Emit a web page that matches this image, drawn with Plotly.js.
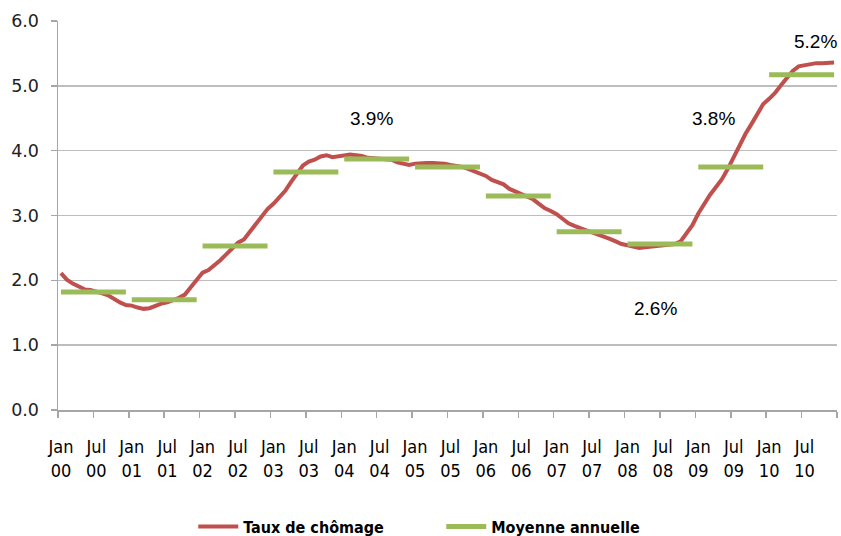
<!DOCTYPE html>
<html>
<head>
<meta charset="utf-8">
<script src="https://cdn.plot.ly/plotly-3.0.1.min.js"></script>
<style>
  html, body { margin: 0; padding: 0; background: #ffffff; }
  #chart { width: 841px; height: 536px; }
</style>
</head>
<body>
<div id="chart"></div>
<script>
// Monthly unemployment rate, Jan 2000 .. Dec 2010 (one value per month)
const monthlyRate = [
  2.11, 2.01, 1.95, 1.90, 1.86, 1.85, 1.83, 1.80, 1.77, 1.71, 1.66, 1.62, // 2000
  1.61, 1.58, 1.56, 1.57, 1.61, 1.64, 1.66, 1.69, 1.73, 1.78, 1.90, 2.02, // 2001
  2.12, 2.16, 2.23, 2.31, 2.40, 2.50, 2.58, 2.63, 2.75, 2.88, 2.99, 3.10, // 2002
  3.18, 3.27, 3.38, 3.52, 3.65, 3.77, 3.83, 3.86, 3.91, 3.93, 3.90, 3.91, // 2003
  3.93, 3.94, 3.93, 3.92, 3.89, 3.88, 3.87, 3.86, 3.86, 3.82, 3.80, 3.78, // 2004
  3.80, 3.81, 3.81, 3.81, 3.81, 3.80, 3.78, 3.77, 3.75, 3.72, 3.68, 3.65, // 2005
  3.61, 3.55, 3.52, 3.48, 3.41, 3.37, 3.34, 3.29, 3.25, 3.18, 3.11, 3.07, // 2006
  3.02, 2.95, 2.88, 2.84, 2.80, 2.77, 2.74, 2.71, 2.68, 2.64, 2.60, 2.56, // 2007
  2.54, 2.52, 2.50, 2.51, 2.52, 2.52, 2.53, 2.54, 2.56, 2.60, 2.72, 2.85, // 2008
  3.03, 3.19, 3.32, 3.44, 3.56, 3.72, 3.91, 4.10, 4.26, 4.41, 4.58, 4.72, // 2009
  4.80, 4.89, 5.01, 5.11, 5.23, 5.30, 5.32, 5.33, 5.35, 5.35, 5.36, 5.36  // 2010
];

// Annual averages, 2000 .. 2010
const years = ["00", "01", "02", "03", "04", "05", "06", "07", "08", "09", "10"];
const annualAverage = [1.82, 1.70, 2.53, 3.67, 3.87, 3.75, 3.30, 2.75, 2.56, 3.75, 5.17];

// Tick labels (every 6 months)
const tickLabels = [
  "Jan<br>00", "Jul<br>00", "Jan<br>01", "Jul<br>01", "Jan<br>02", "Jul<br>02",
  "Jan<br>03", "Jul<br>03", "Jan<br>04", "Jul<br>04", "Jan<br>05", "Jul<br>05",
  "Jan<br>06", "Jul<br>06", "Jan<br>07", "Jul<br>07", "Jan<br>08", "Jul<br>08",
  "Jan<br>09", "Jul<br>09", "Jan<br>10", "Jul<br>10"
];

// Text labels on the chart
const noteTexts = ["3.9%", "3.8%", "5.2%", "2.6%"];
const noteMonth = [52.6, 110.5, 127.9, 100.7];
const noteValue = [4.50, 4.50, 5.68, 1.57];

const seriesNames = ["Taux de chômage", "Moyenne annuelle"];

// ---- build traces ----
const monthIdx = monthlyRate.map((v, i) => i);

const avgX = [], avgY = [];
annualAverage.forEach((v, y) => {
  for (let m = 0; m < 12; m++) { avgX.push(y * 12 + m); avgY.push(v); }
  avgX.push(null); avgY.push(null);
});

const traces = [
  {
    x: monthIdx, y: monthlyRate, type: "scatter", mode: "lines",
    name: seriesNames[0],
    line: { color: "#C0504D", width: 4 },
    hoverinfo: "skip"
  },
  {
    x: avgX, y: avgY, type: "scatter", mode: "lines",
    name: seriesNames[1], connectgaps: false,
    line: { color: "#9BBB59", width: 5 },
    hoverinfo: "skip"
  }
];

const tickVals = tickLabels.map((t, i) => i * 6);

const layout = {
  width: 841, height: 536,
  margin: { l: 58, r: 4, t: 21, b: 126, autoexpand: false },
  paper_bgcolor: "#ffffff",
  plot_bgcolor: "#ffffff",
  showlegend: true,
  legend: {
    orientation: "h",
    x: 0.492, xanchor: "center",
    y: -0.30, yanchor: "middle",
    font: { family: "Liberation Sans Narrow, DejaVu Sans Condensed, Arial Narrow, sans-serif", size: 16, color: "#000000", weight: "bold" },
    itemwidth: 40,
    entrywidth: 193,
    entrywidthmode: "pixels",
    bgcolor: "rgba(0,0,0,0)"
  },
  xaxis: {
    range: [-0.5, 131.5],
    tickmode: "array",
    tickvals: tickVals,
    ticktext: tickLabels,
    ticks: "",
    ticklabelstandoff: 20,
    tickfont: { family: "Liberation Sans Narrow, DejaVu Sans Condensed, Arial Narrow, sans-serif", size: 18, color: "#000000" },
    showgrid: false,
    zeroline: false,
    showline: true, linecolor: "#A6A6A6", linewidth: 1.5,
    minor: { tick0: -0.5, dtick: 6, ticks: "outside", ticklen: 6, tickcolor: "#A6A6A6", tickwidth: 1.5, showgrid: false },
    fixedrange: true
  },
  yaxis: {
    range: [0, 6],
    tickmode: "linear", tick0: 0, dtick: 1,
    tickformat: ".1f",
    ticks: "outside", ticklen: 6, tickcolor: "#A6A6A6", tickwidth: 1.5,
    ticklabelstandoff: 8,
    tickfont: { family: "DejaVu Sans, Verdana, sans-serif", size: 17.5, color: "#222222" },
    showgrid: true, gridcolor: "#BDBDBD", gridwidth: 1.5,
    zeroline: false,
    showline: true, linecolor: "#A6A6A6", linewidth: 1.5,
    fixedrange: true
  },
  annotations: noteTexts.map((t, i) => ({
    x: noteMonth[i], y: noteValue[i], xref: "x", yref: "y",
    text: t, showarrow: false,
    font: { family: "Liberation Sans, Arial, sans-serif", size: 19, color: "#000000" }
  }))
};

Plotly.newPlot("chart", traces, layout, { displayModeBar: false, staticPlot: true });
</script>
</body>
</html>
